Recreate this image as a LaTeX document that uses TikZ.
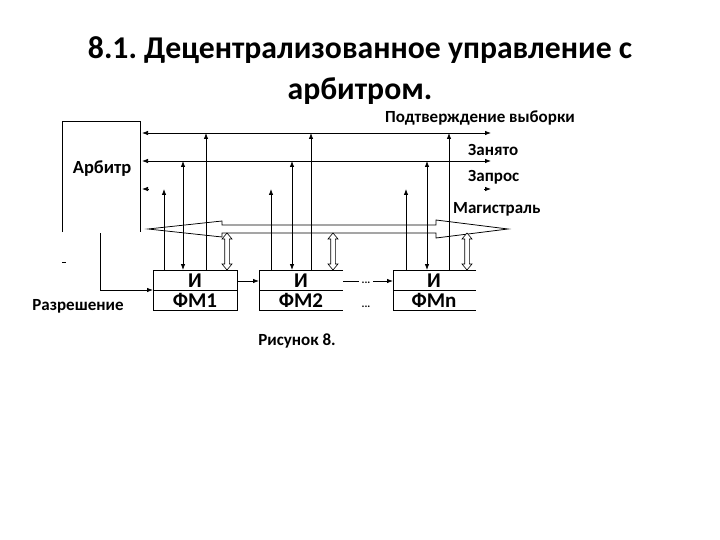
\documentclass[tikz,border=0pt]{standalone}
\usepackage{fontspec}
\setmainfont{Carlito}
\usetikzlibrary{arrows.meta}
\frenchspacing
\begin{document}
\begin{tikzpicture}[x=1pt,y=-1pt,
  ln/.style={draw=black, line width=0.75pt},
  up/.style={ln, -{Latex[length=6pt,width=4.5pt]}},
  both/.style={ln, {Latex[length=6pt,width=4.5pt]}-{Latex[length=6pt,width=4.5pt]}},
  lbl/.style={font=\bfseries\fontsize{17}{19}\selectfont, inner sep=0pt},
  boxtxt/.style={font=\bfseries\fontsize{21}{23}\selectfont, inner sep=0pt},
  ttl/.style={font=\bfseries\fontsize{31.7}{36}\selectfont, inner sep=0pt},
  dots/.style={font=\bfseries\fontsize{11}{12}\selectfont, inner sep=0pt},
  hollow/.pic={\draw[line width=0.6pt, fill=white] (0,0) -- (5,6) -- (2.3,6) -- (2.3,31) -- (5,31) -- (0,37) -- (-5,31) -- (-2.3,31) -- (-2.3,6) -- (-5,6) -- cycle;}
  ]
\useasboundingbox[fill=white] (0,0) rectangle (720,540);
% title
\node[ttl] (t1) at (360,50) {8.1. Децентрализованное управление с};
\node[ttl] (t2) at (360,91) {арбитром.};
% arbiter
\draw[ln] (62,232) -- (62,121) -- (140,121) -- (140,232);
\node[lbl, font=\bfseries\fontsize{18.5}{20}\selectfont] (arb) at (102,169) {Арбитр};
\draw[ln] (62,262) -- (66,262);
% signal lines
\coordinate (pL) at (142,133); \coordinate (pR) at (491,133);
\coordinate (zL) at (142,161); \coordinate (zR) at (491,161);
\draw[both] (pL) -- (pR);
\draw[both] (zL) -- (zR);
\draw[up] (149,189) -- (142,189);
\draw[up] (484,189) -- (491,189);
\node[lbl] (lp) at (480,118) {Подтверждение выборки};
\node[lbl, anchor=west] (lz) at (468,150) {Занято};
\node[lbl, anchor=west] (lq) at (468,177) {Запрос};
\node[lbl, anchor=west] (lm) at (453,209) {Магистраль};
% bus
\draw[ln, fill=white] (148,229) -- (222,221) -- (222,225) -- (436,225) -- (436,220) -- (508,229) -- (436,238) -- (436,233) -- (222,233) -- (222,237) -- cycle;
% modules
\draw[ln] (153,270) rectangle (237,310);
\draw[ln] (153,290) -- (237,290);
\draw[ln] (343,270) -- (259,270) -- (259,310) -- (343,310);
\draw[ln] (259,290) -- (343,290);
\draw[ln] (476,270) -- (393,270) -- (393,310) -- (476,310);
\draw[ln] (393,290) -- (476,290);
\node[boxtxt] (i1) at (195,280.5) {И};
\node[boxtxt] (f1) at (195,300.5) {ФМ1};
\node[boxtxt] (i2) at (301,280.5) {И};
\node[boxtxt] (f2) at (301,300.5) {ФМ2};
\node[boxtxt] (in) at (434,280.5) {И};
\node[boxtxt] (fn) at (434,300.5) {ФМn};
% verticals module 1
\draw[up] (164,270) -- (164,189);
\draw[both] (183,161) -- (183,270);
\draw[up] (206,270) -- (206,133);
\pic at (227,233) {hollow};
% module 2
\draw[up] (271,270) -- (271,189);
\draw[both] (292,161) -- (292,270);
\draw[up] (311,270) -- (311,133);
\pic at (333,233) {hollow};
% module n
\draw[up] (406,270) -- (406,189);
\draw[both] (427,161) -- (427,270);
\draw[up] (449,270) -- (449,133);
\pic at (467,233) {hollow};
% permission chain
\node[lbl] (perm) at (78,306) {Разрешение};
\draw[up] (100,233) -- (100,290) -- (153,290);
\draw[up] (237,281) -- (259,281);
\draw[ln] (343,281) -- (359,281);
\node[dots, anchor=base] (d1) at (366,283) {...};
\draw[up] (373,281) -- (393,281);
\node[dots, anchor=base] (d2) at (366,307) {...};
\node[lbl] (fig) at (297,341) {Рисунок 8.};
\end{tikzpicture}
\end{document}
